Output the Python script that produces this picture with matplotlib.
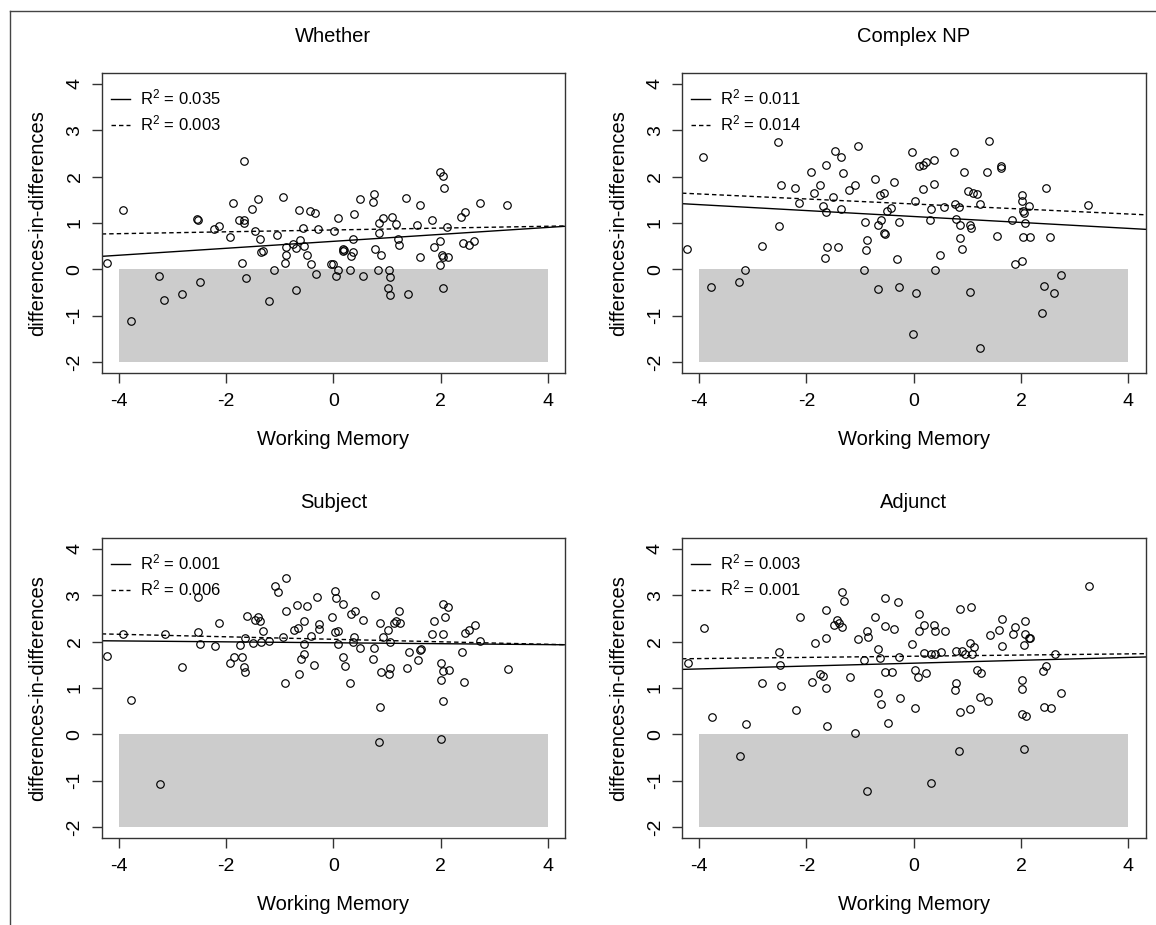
import matplotlib
matplotlib.use("Agg")
import matplotlib.pyplot as plt
from matplotlib.lines import Line2D

plt.rcParams['font.family'] = ['Liberation Sans', 'DejaVu Sans']
plt.rcParams['mathtext.fontset'] = 'custom'
plt.rcParams['mathtext.rm'] = 'Liberation Sans'
plt.rcParams['mathtext.it'] = 'Liberation Sans:italic'
plt.rcParams['axes.unicode_minus'] = False

# --- data ---
titles = ["Whether", "Complex NP", "Subject", "Adjunct"]

whether_x = [-3.93, -4.23, -3.78, -3.25, -3.15, -2.83, -2.49, -2.54, -2.53, -2.22,
             -2.14, -1.93, -1.87, -1.66, -1.76, -1.66, -1.66, -1.71, -1.63, -1.51,
             -1.41, -1.46, -1.36, -1.35, -1.32, -1.21, -1.10, -1.05, -0.94, -0.88,
             -0.89, -0.91, -0.69, -0.65, -0.62, -0.75, -0.70, -0.56, -0.55, -0.50,
             -0.42, -0.32, -0.43, -0.34, -0.28, -0.04, 0.00, 0.01, 0.04,
             0.08, 0.39, 0.49, 0.75, 0.74, 0.37, 0.17, 0.17, 0.20, 0.36,
             0.32, 0.08, 0.30, 0.55, 0.77, 0.88, 0.84, 0.92, 0.85, 0.83,
             1.03, 1.05, 1.01, 1.05, 1.39, 1.10, 1.16, 1.21, 1.23, 1.36,
             1.61, 1.55, 1.61, 1.83, 1.87, 1.99, 1.99, 2.04, 2.07, 2.12,
             2.02, 2.05, 2.13, 1.99, 2.05, 2.37, 2.45, 2.42, 2.52, 2.62,
             2.73, 3.24]
whether_y = [1.28, 0.13, -1.11, -0.14, -0.65, -0.54, -0.27, 1.08, 1.06, 0.88,
             0.94, 0.69, 1.43, 2.33, 1.07, 1.07, 1.01, 0.13, -0.19, 1.30,
             1.51, 0.82, 0.65, 0.37, 0.39, -0.69, -0.01, 0.75, 1.57, 0.48,
             0.32, 0.13, -0.44, 1.28, 0.63, 0.54, 0.47, 0.90, 0.51, 0.32,
             0.11, -0.11, 1.25, 1.22, 0.88, 0.12, 0.12, 0.82, -0.14,
             1.11, 1.20, 1.51, 1.62, 1.45, 0.65, 0.45, 0.39, 0.42, 0.37,
             0.28, -0.01, -0.01, -0.14, 0.43, 0.32, 1.00, 1.11, 0.79, -0.01,
             -0.01, -0.16, -0.41, -0.55, -0.52, 1.13, 0.98, 0.65, 0.53, 1.53,
             1.39, 0.95, 0.26, 1.07, 0.49, 0.61, 2.10, 2.01, 1.76, 0.92,
             0.32, 0.27, 0.26, 0.09, -0.40, 1.13, 1.24, 0.56, 0.53, 0.61,
             1.43, 1.39]

cnp_x = [-3.92, -4.22, -3.78, -3.25, -3.14, -2.83, -2.53, -2.52, -2.48, -2.21,
         -2.13, -1.92, -1.86, -1.74, -1.64, -1.69, -1.63, -1.62, -1.66, -1.50,
         -1.46, -1.35, -1.31, -1.35, -1.41, -1.21, -1.10, -1.04, -0.90, -0.87,
         -0.89, -0.93, -0.73, -0.62, -0.55, -0.36, -0.50, -0.42, -0.61, -0.67,
         -0.55, -0.54, -0.27, -0.31, -0.67, -0.27, -0.04, 0.02, 0.05, -0.01,
         0.09, 0.17, 0.22, 0.38, 0.18, 0.37, 0.33, 0.31, 0.57, 0.49,
         0.40, 0.75, 0.93, 0.77, 0.84, 0.79, 0.86, 0.86, 0.90, 1.02,
         1.11, 1.17, 1.24, 1.04, 1.07, 1.05, 1.23, 1.40, 1.37, 1.56,
         1.62, 1.62, 1.84, 1.88, 2.01, 2.01, 2.01, 2.04, 2.05, 2.14,
         2.07, 2.04, 2.16, 2.46, 2.54, 2.74, 2.42, 2.62, 2.39, 3.25]
cnp_y = [2.42, 0.45, -0.37, -0.27, -0.01, 0.51, 2.74, 0.94, 1.81, 1.76,
         1.43, 2.09, 1.64, 1.81, 2.25, 1.37, 1.24, 0.48, 0.24, 1.55,
         2.56, 2.43, 2.08, 1.30, 0.49, 1.72, 1.81, 2.67, 1.03, 0.63,
         0.41, -0.01, 1.94, 1.60, 1.64, 1.89, 1.26, 1.32, 1.07, 0.96,
         0.79, 0.77, 1.03, 0.22, -0.43, -0.39, 2.53, 1.47, -0.50, -1.39,
         2.22, 2.25, 2.32, 2.35, 1.74, 1.85, 1.30, 1.07, 1.34, 0.32,
         -0.01, 2.53, 2.10, 1.42, 1.34, 1.09, 0.95, 0.67, 0.43, 1.70,
         1.65, 1.62, 1.41, 0.95, 0.90, -0.48, -1.70, 2.76, 2.10, 0.73,
         2.22, 2.19, 1.07, 0.11, 0.19, 1.60, 1.47, 1.26, 1.22, 1.37,
         1.00, 0.69, 0.69, 1.76, 0.69, -0.12, -0.35, -0.50, -0.94, 1.39]

subj_x = [-4.22, -3.92, -3.77, -3.24, -3.14, -2.83, -2.53, -2.53, -2.48, -2.21,
          -2.13, -1.92, -1.85, -1.75, -1.70, -1.67, -1.64, -1.62, -1.64, -1.50,
          -1.46, -1.40, -1.36, -1.31, -1.35, -1.21, -1.09, -1.04, -0.88, -0.89,
          -0.94, -0.90, -0.68, -0.49, -0.31, -0.73, -0.67, -0.55, -0.41, -0.27,
          -0.27, -0.55, -0.55, -0.61, -0.37, -0.64, -0.03,
          0.02, 0.05, 0.18, 0.02, 0.09, 0.09, 0.18, 0.21, 0.31, 0.33,
          0.40, 0.56, 0.38, 0.37, 0.50, 0.78, 0.86, 0.76, 0.74, 0.89,
          0.86, 0.84, 0.93, 1.02, 1.06, 1.04, 1.06, 1.12, 1.17, 1.24,
          1.22, 1.37, 1.40, 1.57, 1.62, 1.63, 1.84, 1.88, 2.00, 2.05,
          2.05, 2.13, 2.08, 2.05, 2.15, 2.00, 2.04, 2.01, 2.39, 2.43,
          2.46, 2.53, 2.63, 2.74, 3.25]
subj_y = [1.68, 2.17, 0.74, -1.08, 2.17, 1.46, 2.96, 2.21, 1.95, 1.91,
          2.40, 1.54, 1.66, 1.93, 1.66, 1.46, 1.35, 2.56, 2.08, 1.97,
          2.46, 2.53, 2.44, 2.23, 1.99, 2.02, 3.19, 3.07, 3.38, 2.67,
          2.10, 1.11, 2.80, 2.77, 2.96, 2.24, 2.29, 2.44, 2.12, 2.37,
          2.27, 1.95, 1.73, 1.63, 1.50, 1.31, 2.54,
          3.10, 2.94, 2.82, 2.21, 2.23, 1.94, 1.66, 1.48, 1.10, 2.60,
          2.67, 2.46, 2.10, 1.99, 1.87, 3.00, 2.40, 1.86, 1.63, 1.35,
          0.60, -0.17, 2.11, 2.24, 1.99, 1.31, 1.43, 2.40, 2.45, 2.40,
          2.67, 1.43, 1.77, 1.60, 1.82, 1.83, 2.17, 2.44, 1.54, 2.17,
          2.82, 2.74, 2.54, 1.36, 1.38, 1.18, 0.72, -0.09, 1.77, 1.13,
          2.19, 2.24, 2.35, 2.02, 1.41]

adj_x = [-3.91, -4.21, -3.77, -3.23, -3.13, -2.82, -2.47, -2.52, -2.50, -2.19,
         -2.12, -1.90, -1.85, -1.74, -1.69, -1.64, -1.63, -1.63, -1.61, -1.49,
         -1.44, -1.39, -1.34, -1.34, -1.30, -1.19, -1.09, -1.03, -0.88, -0.86,
         -0.88, -0.92, -0.72, -0.66, -0.63, -0.54, -0.54, -0.36, -0.30, -0.27,
         -0.54, -0.40, -0.66, -0.61, -0.48, -0.26, -0.03,
         0.03, 0.07, 0.03, 0.10, 0.10, 0.19, 0.20, 0.32, 0.40, 0.51,
         0.23, 0.38, 0.40, 0.58, 0.32, 0.78, 0.76, 0.79, 0.90, 0.95,
         1.04, 1.08, 1.12, 0.87, 1.07, 0.87, 1.04, 0.85, 1.17, 1.25,
         1.24, 1.38, 1.42, 1.64, 1.58, 1.64, 1.85, 1.89, 2.07, 2.07,
         2.15, 2.17, 2.05, 2.02, 2.02, 2.01, 2.10, 2.05, 2.63, 2.47,
         2.40, 2.74, 2.43, 2.55, 3.26]
adj_y = [2.29, 1.53, 0.38, -0.47, 0.23, 1.10, 1.05, 1.78, 1.50, 0.52,
         2.54, 1.13, 1.97, 1.31, 1.25, 1.01, 2.69, 2.08, 0.19, 2.35,
         2.46, 2.40, 2.31, 3.06, 2.87, 1.23, 0.02, 2.06, 2.22, 2.09,
         -1.22, 1.61, 2.52, 1.83, 1.64, 2.94, 2.34, 2.27, 2.85, 1.66,
         1.35, 1.35, 0.89, 0.65, 0.25, 0.78, 1.94,
         1.38, 1.24, 0.57, 2.60, 2.23, 2.35, 1.76, 1.74, 1.74, 1.77,
         1.33, 2.35, 2.23, 2.22, -1.05, 1.10, 0.95, 1.79, 1.79, 1.73,
         1.96, 1.74, 1.88, 2.71, 2.75, 0.48, 0.55, -0.36, 1.38, 1.33,
         0.81, 0.72, 2.14, 2.48, 2.24, 1.91, 2.17, 2.32, 2.44, 2.17,
         2.08, 2.08, 1.93, 1.18, 0.97, 0.45, 0.39, -0.32, 1.74, 1.48,
         1.37, 0.90, 0.60, 0.57, 3.19]

# fitted lines: intercept, slope (solid / dashed)
solid_fit = [(0.605, 0.075), (1.14, -0.064), (1.975, -0.010), (1.535, 0.031)]
dashed_fit = [(0.85, 0.020), (1.41, -0.054), (2.05, -0.027), (1.685, 0.0127)]
solid_r2 = ["0.035", "0.011", "0.001", "0.003"]
dashed_r2 = ["0.003", "0.014", "0.006", "0.001"]

shade_x = [-4, 4]
shade_y = [-2, 0]

xs = [whether_x, cnp_x, subj_x, adj_x]
ys = [whether_y, cnp_y, subj_y, adj_y]

W, H = 1156, 925
fig = plt.figure(figsize=(W / 100, H / 100), dpi=100)

# outer frame (top and left edges visible)
fig.add_artist(Line2D([9.5 / W, 1.0], [1 - 10.7 / H, 1 - 10.7 / H], color='#444444', lw=1.0))
fig.add_artist(Line2D([9.5 / W, 9.5 / W], [0.0, 1 - 10.7 / H], color='#444444', lw=1.0))

lefts = [101.7, 682.0, 101.7, 682.0]
tops = [72.7, 72.7, 537.7, 537.7]
aw, ah = 463.5, 300.6

for i in range(4):
    ax = fig.add_axes([lefts[i] / W, 1 - (tops[i] + ah) / H, aw / W, ah / H])
    ax.fill_between(shade_x, shade_y[0], shade_y[1], color='#cccccc', lw=0, zorder=1)
    ax.plot(xs[i], ys[i], 'o', mfc='none', mec='black', ms=5.4, mew=0.85, zorder=3)
    a, b = solid_fit[i]
    l1 = ax.axline((0, a), slope=b, color='black', lw=1.0, zorder=2)
    a, b = dashed_fit[i]
    l2 = ax.axline((0, a), slope=b, color='black', lw=1.0, ls=(0, (3.2, 2.2)), zorder=2)

    ax.set_xlim(-4.32, 4.32)
    ax.set_ylim(-2.24, 4.24)
    ax.set_xticks([-4, -2, 0, 2, 4])
    ax.set_yticks([-2, -1, 0, 1, 2, 3, 4])
    ax.tick_params(axis='both', direction='out', length=7.2, width=1.0, labelsize=14, color='#333333')
    ax.tick_params(axis='x', pad=13)
    ax.tick_params(axis='y', pad=12)
    for lab in ax.get_yticklabels():
        lab.set_rotation(90)
        lab.set_va('center')
        lab.set_ha('center')
    for lab in ax.get_xticklabels():
        lab.set_va('center')
    for sp in ax.spines.values():
        sp.set_linewidth(1.0)
        sp.set_color('#333333')

    ax.text(0.5, 1 + 35.7 / ah, titles[i], transform=ax.transAxes, ha='center', va='center', fontsize=14.5)
    ax.set_xlabel("Working Memory", fontsize=14.5)
    ax.xaxis.set_label_coords(0.5, -66.5 / ah)
    ax.xaxis.label.set_va('center')
    ax.set_ylabel("differences-in-differences", fontsize=14.5)
    ax.yaxis.set_label_coords(-63.7 / aw, 0.5)
    ax.yaxis.label.set_va('center')

    ax.legend([l1, l2], [r"R$^2$ = " + solid_r2[i], r"R$^2$ = " + dashed_r2[i]],
              loc='upper left', bbox_to_anchor=(0.02, 0.95), frameon=False,
              fontsize=12, handlelength=1.15, handletextpad=0.6,
              labelspacing=0.35, borderpad=0, borderaxespad=0)

fig.savefig("out.png", dpi=100)
